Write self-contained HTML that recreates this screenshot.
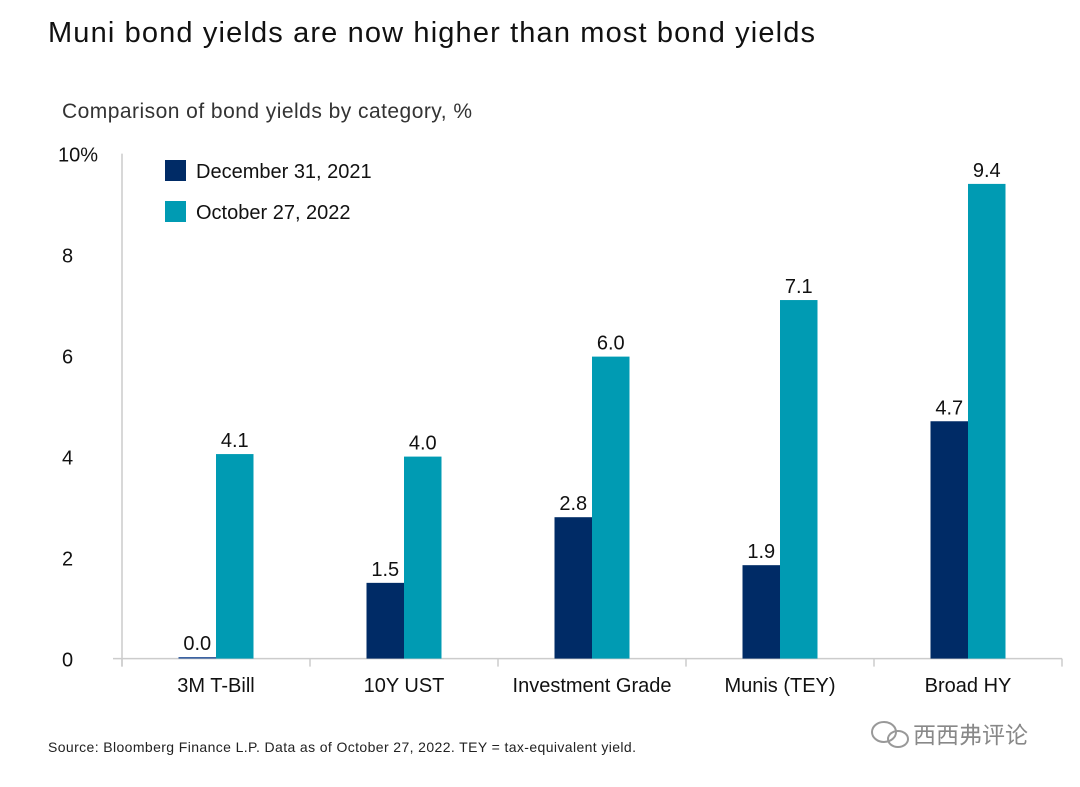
<!DOCTYPE html>
<html><head><meta charset="utf-8"><style>
body{margin:0;background:#fff;width:1080px;height:782px;overflow:hidden;font-family:"Liberation Sans","Noto Sans CJK SC",sans-serif}
</style></head><body>
<svg width="1080" height="782">
<text x="48" y="42" font-size="29" fill="#111" textLength="767">Muni bond yields are now higher than most bond yields</text>
<text x="62" y="118" font-size="21" fill="#333" textLength="410">Comparison of bond yields by category, %</text>
<g id="axes"></g>
<g id="bars"></g>
<rect x="165" y="160" width="21" height="21" fill="#002b66"/>
<text x="196" y="178" font-size="20" fill="#111">December 31, 2021</text>
<rect x="165" y="201" width="21" height="21" fill="#009bb3"/>
<text x="196" y="219" font-size="20" fill="#111">October 27, 2022</text>
<text x="48" y="752" font-size="14" fill="#222" textLength="588">Source: Bloomberg Finance L.P. Data as of October 27, 2022. TEY = tax-equivalent yield.</text>
<text x="913" y="743" font-size="23" fill="#888">西西弗评论</text>
<g fill="none" stroke="#999" stroke-width="2"><ellipse cx="884" cy="732" rx="12" ry="10"/><ellipse cx="898" cy="739" rx="10" ry="8"/></g>
</svg>
<script>
const categories=["3M T-Bill","10Y UST","Investment Grade","Munis (TEY)","Broad HY"];
const dec2021=[0.03,1.5,2.8,1.85,4.7];
const oct2022=[4.05,4.0,5.98,7.1,9.4];
const labels2021=["0.0","1.5","2.8","1.9","4.7"];
const labels2022=["4.1","4.0","6.0","7.1","9.4"];
const yTicks=[0,2,4,6,8,10];
const ns="http://www.w3.org/2000/svg";
const x0=122,x1=1062,y0=658.6,pxPer=50.5;
const bw=(x1-x0)/categories.length, barW=37.5;
const y=v=>y0-v*pxPer;
const ax=document.getElementById('axes'),bg=document.getElementById('bars');
function mk(tag,attrs,parent){const e=document.createElementNS(ns,tag);for(const k in attrs)e.setAttribute(k,attrs[k]);parent.appendChild(e);return e;}
let l=mk('line',{x1:x0,y1:y(10),x2:x0,y2:y0+8,stroke:'#ccc','stroke-width':1.5},ax);


l=mk('line',{x1:113,y1:y0,x2:x1,y2:y0,stroke:'#ccc','stroke-width':1.5},ax);


yTicks.forEach(t=>{const e=mk('text',{x:t==10?58:62,y:y(t)+8,'font-size':20,fill:'#111'},ax);e.textContent=t==10?'10%':t;

});
for(let i=0;i<=categories.length;i++){const e=mk('line',{x1:x0+i*bw,y1:y0,x2:x0+i*bw,y2:y0+8,stroke:'#ccc','stroke-width':1.5},ax);

}
categories.forEach((c,i)=>{const cx=x0+(i+0.5)*bw;
const t=mk('text',{x:cx,y:692,'font-size':20,fill:'#111','text-anchor':'middle'},ax);t.textContent=c;


[[dec2021,labels2021,'#002b66',cx-barW],[oct2022,labels2022,'#009bb3',cx]].forEach(([d,lb,col,bx],s)=>{
const r=mk('rect',{x:bx,y:y(d[i]),width:barW,height:Math.max(1.5,d[i]*pxPer),fill:s==0&&i==0?'#2a5599':col},bg);


const v=mk('text',{x:bx+barW/2,y:y(d[i])-7,'font-size':20,fill:'#111','text-anchor':'middle'},bg);v.textContent=lb[i];

});});
</script>
</body></html>
